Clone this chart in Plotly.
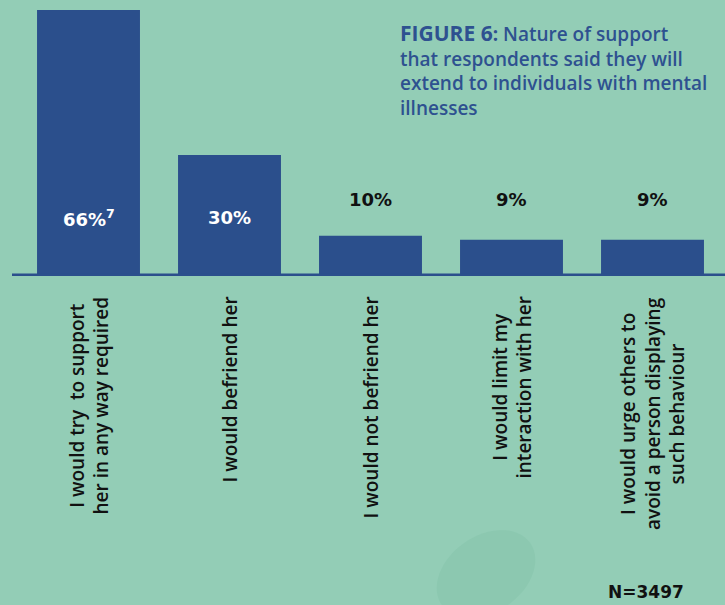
import numpy as np
import plotly.graph_objects as go

categories = [
    "I would try  to support<br>her in any way required",
    "I would befriend her",
    "I would not befriend her",
    "I would limit my<br>interaction with her",
    "I would urge others to<br>avoid a person displaying<br>such behaviour",
]
values = [66, 30, 10, 9, 9]
value_labels = ["66%<sup>7</sup>", "30%", "10%", "9%", "9%"]

BG = "#93cdb6"
BAR = "#2b4f8c"
TITLE = "#2e5190"

W, H = 725, 605
ML, MR, MT, MB = 18, 2, 0, 329
pw, ph = W - ML - MR, H - MT - MB


def px_x(x):
    return (x - ML) / pw


def px_y(y_top):
    # pixel measured from top of page -> paper y
    return (H - y_top - MB) / ph


fig = go.Figure()
fig.add_trace(go.Bar(x=list(range(len(values))), y=values, marker_color=BAR,
                     marker_line_width=0, width=0.73, hoverinfo="skip"))

for i, (v, lab) in enumerate(zip(values, value_labels)):
    inside = v > 20
    fig.add_annotation(x=i, y=14.4 if inside else 18.9, xref="x", yref="y",
                       text="<b>%s</b>" % lab, showarrow=False,
                       font=dict(family="DejaVu Sans", size=18,
                                 color="white" if inside else "#111111"))

for i, c in enumerate(categories):
    fig.add_annotation(x=i, y=0, xref="x", yref="y", text=c, textangle=-90,
                       showarrow=False, xanchor="center", yanchor="top", yshift=-19,
                       align="center",
                       font=dict(family="Open Sans", size=19, color="#111111", weight=600))

fig.add_annotation(x=px_x(398), y=px_y(17), xref="paper", yref="paper", showarrow=False,
                   text="<b><span style='font-size:21px'>FIGURE 6</span>:</b> Nature of support<br>that respondents said they will<br>extend to individuals with mental<br>illnesses",
                   xanchor="left", yanchor="top", align="left",
                   font=dict(family="Open Sans", size=19, color=TITLE, weight=600))

fig.add_annotation(x=px_x(686), y=px_y(592), xref="paper", yref="paper", showarrow=False,
                   text="<b>N=3497</b>", xanchor="right", yanchor="middle",
                   font=dict(family="DejaVu Sans", size=17, color="#111111"))

# baseline
fig.add_shape(type="line", xref="paper", yref="y", x0=px_x(12), x1=px_x(725), y0=0, y1=0,
              line=dict(color=BAR, width=5), layer="above")

# decorative ellipse
t = np.linspace(0, 2 * np.pi, 60)
cx, cy, rx, ry, ang = 486, 574, 54, 38, np.deg2rad(-35)
ex = cx + rx * np.cos(t) * np.cos(ang) - ry * np.sin(t) * np.sin(ang)
ey = cy + rx * np.cos(t) * np.sin(ang) + ry * np.sin(t) * np.cos(ang)
path = "M " + " L ".join("%.4f,%.4f" % (px_x(a), px_y(b)) for a, b in zip(ex, ey)) + " Z"
fig.add_shape(type="path", path=path, xref="paper", yref="paper",
              fillcolor="#8cc8b0", line_width=0, layer="below")

fig.update_layout(
    width=W, height=H,
    margin=dict(l=ML, r=MR, t=MT, b=MB),
    paper_bgcolor=BG, plot_bgcolor=BG,
    showlegend=False,
    xaxis=dict(range=[-0.5, 4.5], visible=False),
    yaxis=dict(range=[0, 68.5], visible=False),
)

fig.write_html("out.html", config={"displayModeBar": False},
               post_script="document.body.style.margin='0';document.body.style.background='%s';" % BG)
